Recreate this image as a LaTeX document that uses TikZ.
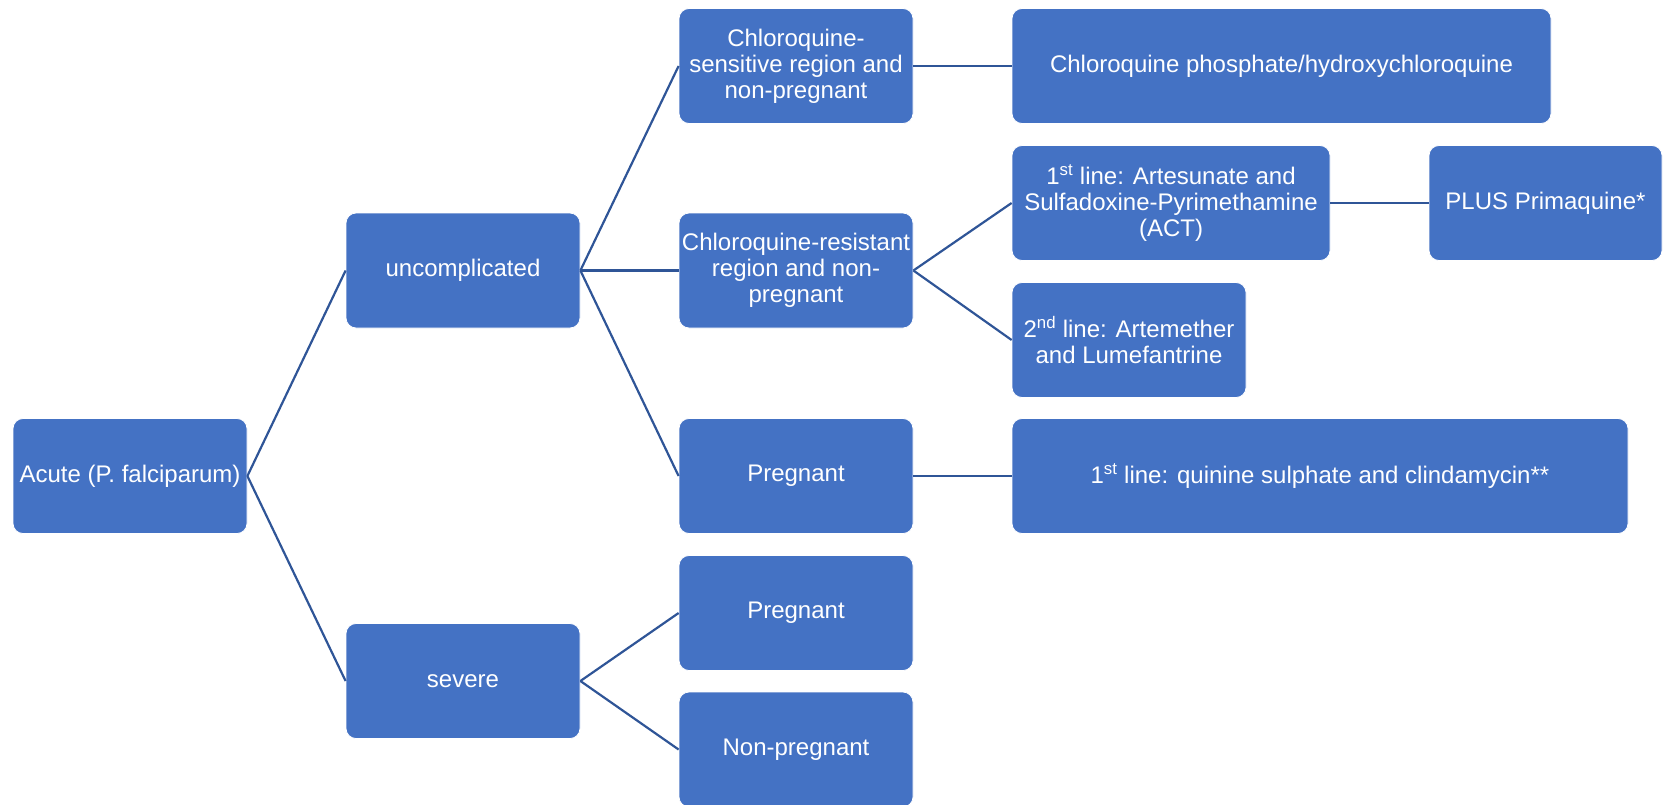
\documentclass[tikz,border=0pt]{standalone}
\usepackage{fontspec}
\setmainfont{Liberation Sans}
\definecolor{boxblue}{HTML}{4472C4}
\definecolor{linkblue}{HTML}{2F5597}
\begin{document}
\begin{tikzpicture}[x=1pt,y=-1pt,
  box/.style={rectangle, rounded corners=10pt, fill=boxblue, draw=white, line width=0.8pt,
    text=white, align=center, inner sep=2pt, minimum height=115pt,
    font=\fontsize{24}{26}\selectfont},
  link/.style={draw=linkblue, line width=2.2pt}]
\clip (0,0) rectangle (1663,804);
\node[box, minimum width=234pt] (acute) at (130,476) {Acute (P. falciparum)};
\node[box, minimum width=234pt] (unc) at (463,270.5) {uncomplicated};
\node[box, minimum width=234pt] (sev) at (463,681) {severe};
\node[box, minimum width=234pt] (cs) at (796,66) {Chloroquine-\\sensitive region and\\non-pregnant};
\node[box, minimum width=234pt] (cr) at (796,270.5) {Chloroquine-resistant\\region and non-\\pregnant};
\node[box, minimum width=234pt] (preg1) at (796,476) {Pregnant};
\node[box, minimum width=234pt] (preg2) at (796,613) {Pregnant};
\node[box, minimum width=234pt] (nonp) at (796,749.5) {Non-pregnant};
\node[box, minimum width=539pt] (cp) at (1281.5,66) {Chloroquine phosphate/hydroxychloroquine};
\node[box, minimum width=318pt] (act) at (1171,203) {1\textsuperscript{st} line: Artesunate and\\Sulfadoxine-Pyrimethamine\\(ACT)};
\node[box, minimum width=233pt] (plus) at (1545.5,203) {PLUS Primaquine*};
\node[box, minimum width=234pt] (snd) at (1129,340) {2\textsuperscript{nd} line: Artemether\\and Lumefantrine};
\node[box, minimum width=616pt] (quin) at (1320,476) {1\textsuperscript{st} line: quinine sulphate and clindamycin**};
\draw[link] (acute.east) -- (unc.west);
\draw[link] (acute.east) -- (sev.west);
\draw[link] (unc.east) -- (cs.west);
\draw[link] (unc.east) -- (cr.west);
\draw[link] (unc.east) -- (preg1.west);
\draw[link] (cs.east) -- (cp.west);
\draw[link] (cr.east) -- (act.west);
\draw[link] (cr.east) -- (snd.west);
\draw[link] (act.east) -- (plus.west);
\draw[link] (preg1.east) -- (quin.west);
\draw[link] (sev.east) -- (preg2.west);
\draw[link] (sev.east) -- (nonp.west);
\end{tikzpicture}
\end{document}
